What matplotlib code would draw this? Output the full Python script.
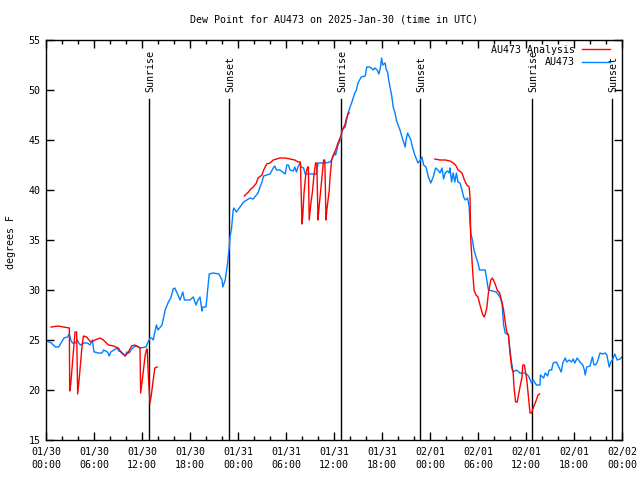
import numpy as np
import matplotlib
matplotlib.use("Agg")
import matplotlib.pyplot as plt
from matplotlib.ticker import MultipleLocator

# hours since 2025-01-30 00:00 UTC
obs_hours = [0.08, 0.67, 0.9, 1.2, 1.6, 1.8, 2.25, 2.7, 2.9, 3.1, 3.3, 3.7, 3.9, 4.1, 4.3, 4.7,
             5.2, 5.5, 5.8, 6.0, 6.1, 6.5, 7.0, 7.2, 7.7, 7.9, 8.1, 8.5, 8.9, 9.1, 9.4, 9.7,
             9.9, 10.1, 10.4, 10.7, 11.0, 11.4, 11.8, 12.5, 12.7, 13.0, 13.2, 13.4, 13.8, 14.0,
             14.5, 14.9, 15.3, 15.6, 15.9, 16.1, 16.5, 16.75, 17.1, 17.3, 18.0, 18.4, 18.75, 19.0,
             19.25, 19.5, 19.6, 20.0, 20.2, 20.4, 20.9, 21.6, 22.0, 22.1, 22.4, 22.7, 22.9, 23.0,
             23.2, 23.4, 23.5, 23.8, 24.25, 24.7, 25.1, 25.5, 25.9, 26.3, 26.5, 26.75, 27.0, 27.2,
             27.6, 28.0, 28.4, 28.6, 28.8, 29.25, 29.9, 30.1, 30.3, 30.5, 30.9, 31.1, 31.3, 31.5,
             31.75, 31.9, 32.2, 32.4, 33.8, 34.0, 34.9, 35.5, 35.7, 36.1, 36.2, 36.5, 36.9, 37.0,
             37.4, 37.7, 38.0, 38.2, 38.4, 38.6, 38.8, 39.0, 39.4, 39.9, 40.1, 40.4, 40.7, 40.9,
             41.1, 41.4, 41.6, 41.8, 41.95, 42.1, 42.4, 42.5, 42.7, 42.8, 43.0, 43.2, 43.4, 43.6,
             43.8, 44.0, 44.25, 44.5, 44.9, 45.0, 45.2, 45.6, 45.8, 46.1, 46.5, 46.8, 47.0, 47.2,
             47.5, 47.8, 48.1, 48.4, 48.7, 49.0, 49.25, 49.5, 49.7, 49.9, 50.2, 50.4, 50.5, 50.7,
             50.9, 51.1, 51.3, 51.5, 51.75, 52.0, 52.2, 52.4, 52.7, 52.9, 53.0, 53.1, 53.3, 53.5,
             53.75, 54.0, 54.2, 54.9, 55.3, 56.3, 56.75, 57.0, 57.2, 57.4, 57.8, 58.0, 58.2, 58.4,
             58.8, 59.25, 59.5, 59.9, 60.3, 60.7, 60.9, 61.3, 61.75, 61.8, 62.2, 62.4, 62.7, 62.9,
             63.2, 63.4, 63.8, 64.1, 64.4, 64.6, 64.9, 65.1, 65.4, 65.7, 65.9, 66.1, 66.4, 66.75,
             67.1, 67.3, 67.4, 67.6, 68.0, 68.3, 68.5, 68.8, 69.0, 69.25, 69.6, 69.9, 70.1, 70.4,
             70.6, 70.8, 71.1, 71.4, 71.75, 72.0]
obs_values = [24.9, 24.7, 24.5, 24.3, 24.3, 24.6, 25.2, 25.3, 25.6, 25.0, 24.7, 24.7, 25.0, 24.7, 24.5, 24.7,
              24.7, 24.5, 25.0, 23.8, 23.8, 23.7, 23.7, 24.0, 23.8, 23.4, 23.8, 24.0, 24.2, 23.9, 23.8, 23.6,
              23.4, 23.8, 23.7, 24.1, 24.3, 24.4, 24.2, 24.3, 24.7, 25.2, 25.2, 25.0, 26.5, 26.0,
              26.5, 28.0, 28.8, 29.2, 30.1, 30.2, 29.5, 29.0, 29.8, 29.0, 29.0, 29.3, 28.5, 29.0,
              29.3, 27.9, 28.3, 28.3, 30.0, 31.6, 31.7, 31.6, 31.0, 30.3, 31.0, 32.7, 34.2, 35.3,
              36.2, 38.0, 38.2, 37.8, 38.3, 38.8, 39.0, 39.2, 39.1, 39.5, 39.7, 40.3, 40.8, 41.4,
              41.5, 41.6, 42.2, 42.4, 42.0, 42.0, 41.6, 42.5, 42.5, 42.0, 41.9, 42.3, 41.8, 42.3,
              42.7, 42.3, 42.2, 41.6, 41.6, 42.7, 42.7, 42.8, 43.0, 43.7, 43.5, 44.5, 45.2, 46.0,
              46.3, 47.5, 48.3, 48.7, 49.2, 49.7, 50.0, 50.7, 51.3, 51.4, 52.3, 52.3, 52.2, 52.0,
              52.2, 52.0, 51.6, 52.2, 53.2, 52.5, 52.7, 52.1, 51.8, 51.2, 50.3, 49.5, 48.3, 47.8,
              47.0, 46.5, 46.0, 45.3, 44.3, 45.0, 45.7, 45.0, 44.3, 43.5, 42.7, 43.0, 43.3, 42.5,
              42.3, 41.3, 40.7, 41.3, 42.2, 42.0, 41.7, 42.2, 41.1, 41.7, 41.9, 41.7, 42.2, 40.8,
              41.7, 40.8, 41.7, 40.8, 40.7, 40.0, 39.3, 39.0, 39.2, 38.3, 36.7, 35.7, 35.0, 34.0,
              33.3, 32.7, 32.0, 32.0, 30.0, 29.8, 29.3, 28.7, 26.5, 25.7, 25.5, 24.0, 22.7, 21.8,
              22.0, 21.7, 21.7, 21.7, 21.4, 20.7, 21.0, 20.5, 20.5, 21.5, 21.2, 21.7, 21.4, 22.0,
              22.0, 22.7, 22.8, 22.3, 21.8, 22.7, 23.2, 22.8, 23.0, 22.8, 23.1, 22.7, 23.2, 22.8,
              22.5, 22.0, 21.5, 22.3, 22.4, 23.3, 22.5, 22.6, 23.0, 23.7, 23.6, 23.7, 23.5, 22.3,
              22.8, 23.0, 23.6, 23.0, 23.1, 23.3]

ana_hours = [0.63, 1.54, 2.17, 2.92, 2.96, 3.08, 3.42, 3.63, 3.83, 3.96, 4.17, 4.46, 4.67, 5.08,
             5.58, 6.13, 6.75, 7.17, 7.8, 8.42, 9.04, 9.46, 9.9, 10.3, 10.7, 11.1, 11.5, 11.75,
             11.83, 12.08, 12.4, 12.58, 12.66, 12.8, 13.0, 13.2, 13.4, 13.6, 13.9,
             np.nan,
             24.8, 24.9, 25.3, 25.5, 25.9, 26.3, 26.5, 27.0, 27.2, 27.6, 28.0, 28.4, 29.25, 29.9,
             30.5, 31.1, 31.5, 31.8, 32.0, 32.1, 32.25, 32.4, 32.5, 32.7, 32.8, 32.9, 33.1, 33.3,
             33.5, 33.7, 33.85, 34.0, 34.1, 34.3, 34.5, 34.7, 34.85, 35.0, 35.1, 35.4, 35.5, 35.7,
             35.9, 36.2, 36.5, 36.9, 37.0, 37.4, 37.5, 37.8, 37.9,
             np.nan,
             48.6, 49.25, 49.9, 50.5, 50.9, 51.2, 51.5, 52.0, 52.3, 52.6, 52.9, 53.0, 53.1, 53.3,
             53.5, 53.75, 54.0, 54.25, 54.6, 54.8, 55.1, 55.3, 55.6, 55.8, 56.1, 56.4, 56.7, 57.0,
             57.2, 57.4, 57.6, 57.8, 58.0, 58.2, 58.4, 58.5, 58.7, 58.9, 59.25, 59.5, 59.6, 59.8,
             60.1, 60.3, 60.5, 60.7, 60.9, 61.2, 61.5, 61.7]
ana_values = [26.3, 26.4, 26.3, 26.2, 19.9, 20.5, 23.7, 25.8, 25.8, 19.6, 21.3, 24.0, 25.4, 25.3,
              24.8, 25.0, 25.2, 25.0, 24.5, 24.4, 24.2, 23.7, 23.4, 23.8, 24.4, 24.5, 24.3, 24.2,
              19.7, 21.3, 23.5, 24.1, 24.0, 21.3, 18.7, 19.7, 21.0, 22.2, 22.3,
              np.nan,
              39.4, 39.5, 39.8, 40.0, 40.3, 40.7, 41.2, 41.5, 42.0, 42.6, 42.7, 43.0, 43.2, 43.2,
              43.1, 43.0, 42.8, 42.8, 36.6, 37.5, 39.7, 41.0, 41.7, 42.3, 42.3, 37.0, 38.6, 39.8,
              41.5, 42.7, 42.7, 37.0, 38.0, 39.7, 41.3, 43.0, 43.0, 37.0, 38.0, 39.9, 41.2, 43.0,
              43.5, 44.0, 44.7, 45.5, 45.9, 46.6, 47.0, 47.7, 47.7,
              np.nan,
              43.1, 43.0, 43.0, 42.9, 42.7, 42.5, 42.0, 41.7, 41.0, 40.5, 40.3, 39.3, 35.0, 32.3,
              30.0, 29.5, 29.3, 28.5, 27.5, 27.3, 28.2, 29.7, 31.0, 31.2, 30.7, 30.0, 29.7, 28.8,
              28.0, 26.8, 25.8, 25.5, 23.7, 22.3, 21.7, 20.3, 18.8, 18.8, 20.3, 21.3, 22.5, 22.5,
              21.0, 19.3, 17.7, 17.7, 18.2, 18.8, 19.5, 19.6]

sun_hours = [12.91, 22.91, 36.84, 46.79, 60.79, 70.79]
sun_labels = ["Sunrise", "Sunset", "Sunrise", "Sunset", "Sunrise", "Sunset"]

xtick_hours = [0, 6, 12, 18, 24, 30, 36, 42, 48, 54, 60, 66, 72]
xtick_labels = ["01/30\n00:00", "01/30\n06:00", "01/30\n12:00", "01/30\n18:00",
                "01/31\n00:00", "01/31\n06:00", "01/31\n12:00", "01/31\n18:00",
                "02/01\n00:00", "02/01\n06:00", "02/01\n12:00", "02/01\n18:00",
                "02/02\n00:00"]

FONT = "DejaVu Sans Mono"
FS = 7.2

fig = plt.figure(figsize=(6.4, 4.8), dpi=100)
ax = fig.add_axes([46 / 640, 40 / 480, 576 / 640, 400 / 480])

for h, lab in zip(sun_hours, sun_labels):
    ax.plot([h, h], [15, 49.1], color="black", lw=1.0, zorder=1)
    ax.text(h + 0.15, 49.8, lab, rotation=90, ha="center", va="bottom",
            fontsize=FS, family=FONT, zorder=1)

ax.plot(ana_hours, ana_values, color="#ff0000", lw=1.0, label="AU473 Analysis", zorder=3)
ax.plot(obs_hours, obs_values, color="#0080ff", lw=1.0, label="AU473", zorder=2)

ax.set_xlim(0, 72)
ax.set_ylim(15, 55)
ax.set_xticks(xtick_hours)
ax.set_xticklabels(xtick_labels, fontsize=FS, family=FONT, linespacing=1.35)
ax.xaxis.set_minor_locator(MultipleLocator(2))
ax.set_yticks(range(15, 56, 5))
ax.set_yticklabels([str(v) for v in range(15, 56, 5)], fontsize=FS, family=FONT)
ax.tick_params(which="both", direction="in", top=True, right=True, width=1.0)
ax.tick_params(which="major", length=6, pad=4)
ax.tick_params(axis="x", which="major", pad=5)
ax.tick_params(which="minor", length=3)
for s in ax.spines.values():
    s.set_linewidth(1.0)

ax.set_ylabel("degrees F", fontsize=FS, family=FONT, va="center")
ax.yaxis.set_label_coords(-35 / 576, 0.495)
ax.set_title("Dew Point for AU473 on 2025-Jan-30 (time in UTC)", fontsize=FS,
             family=FONT, pad=12.5)

leg = ax.legend(loc="upper right", bbox_to_anchor=(1 - 10 / 576, 1 - 3 / 400),
                frameon=False, markerfirst=False,
                prop={"family": FONT, "size": FS}, handlelength=2.8,
                handletextpad=0.7, borderaxespad=0.0, labelspacing=0.25,
                borderpad=0.2)
for t in leg.get_texts():
    t.set_ha("right")

fig.savefig("out.png", dpi=100)
